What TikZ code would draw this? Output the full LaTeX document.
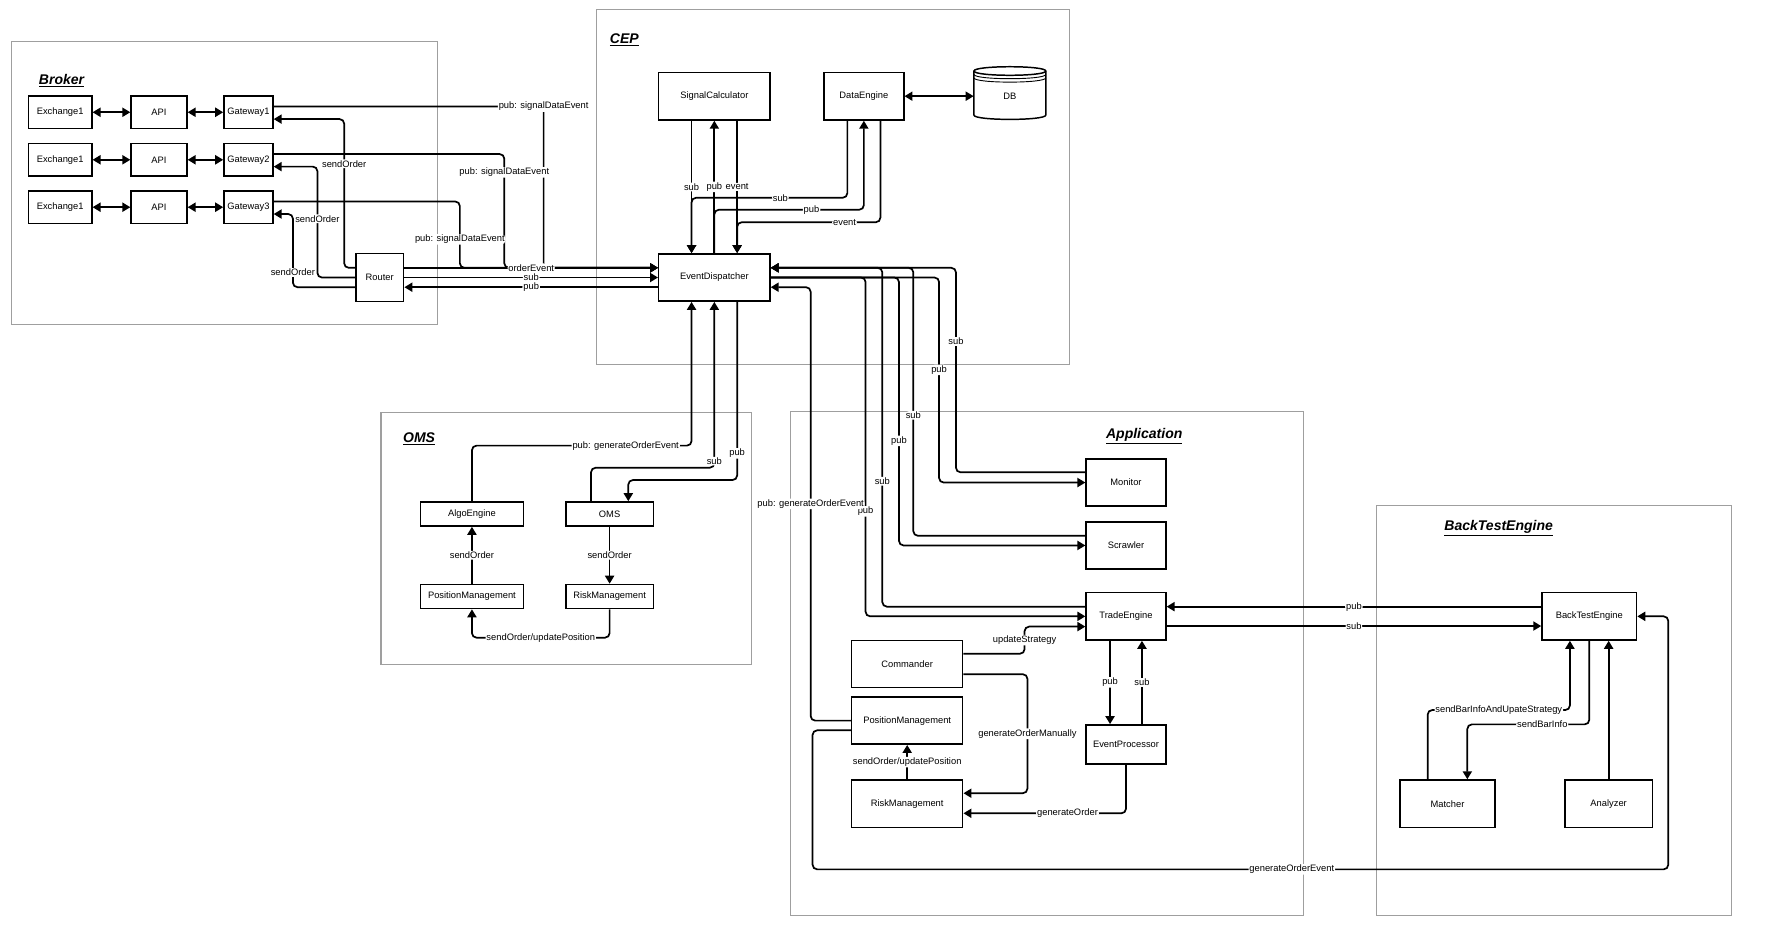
\documentclass[tikz,border=0pt]{standalone}
\usepackage{fontspec}
\setmainfont{Liberation Sans}
\usepackage{tikz}
\usetikzlibrary{arrows.meta}

\newcommand{\boxfont}{\fontsize{8.2}{9.5}\selectfont}

\begin{document}
\begin{tikzpicture}[
    x=1pt, y=-1pt,
    box/.style={draw, line width=1.3pt, fill=white, font=\boxfont, inner sep=1pt},
    grp/.style={draw=gray!75, line width=0.9pt},
    ttl/.style={font=\fontsize{12.3}{14}\selectfont\bfseries\itshape, inner sep=0pt},
    arr/.style={-{Triangle[length=7pt,width=8pt]}, line width=1.5pt, rounded corners=4pt},
    biarr/.style={{Triangle[length=7pt,width=8pt]}-{Triangle[length=7pt,width=8pt]}, line width=1.5pt},
    lbl/.style={fill=white, inner sep=0.8pt, font=\boxfont}
]
    \useasboundingbox (0,0) rectangle (1568,820);

    % groups
    \draw[grp] (10,36.6) rectangle (383.8,285);
    \draw[grp] (523,8.2) rectangle (938,319.4);
    \draw[grp] (334.3,361.8) rectangle (659.5,583);
    \draw[grp] (694,361.2) rectangle (1143.6,803.7);
    \draw[grp] (1208,443.7) rectangle (1519,803.7);

    \node[ttl, anchor=west] (tBroker) at (34,70.8) {\underline{Broker}};
    \node[ttl, anchor=west] (tCep) at (535,35) {\underline{CEP}};
    \node[ttl, anchor=west] (tOms) at (353.5,384.6) {\underline{OMS}};
    \node[ttl] (tApp) at (1004,383) {\underline{Application}};
    \node[ttl] (tBte) at (1315,463.6) {\underline{BackTestEngine}};

    % broker
    \foreach \i/\y in {1/98.5, 2/140.2, 3/181.8} {
        \node[box, minimum width=55.6, minimum height=28.5] (ex\i) at (52.8,\y) {Exchange1};
        \node[box, minimum width=49, minimum height=28.5] (api\i) at (139.5,\y) {API};
        \node[box, minimum width=43, minimum height=28.5] (gw\i) at (218,\y) {Gateway\i};
        \draw[biarr] (ex\i) -- (api\i);
        \draw[biarr] (api\i) -- (gw\i);
    }
    \node[box, minimum width=42, minimum height=42] (router) at (333.2,243.5) {Router};

    % cep
    \node[box, minimum width=97.6, minimum height=41.5] (ed) at (626.8,243.5) {EventDispatcher};
    \node[box, minimum width=97.6, minimum height=41.8] (sc) at (626.8,84.4) {SignalCalculator};
    \node[box, minimum width=70, minimum height=41.8] (de) at (758,84.4) {DataEngine};
    \draw[line width=1.3pt, fill=white] (854.6,62.3) -- (854.6,101)
        .. controls (854.6,106) and (917.6,106) .. (917.6,101) -- (917.6,62.3)
        .. controls (917.6,57.3) and (854.6,57.3) .. (854.6,62.3) -- cycle;
    \draw[line width=1.3pt] (854.6,62.3) .. controls (854.6,67.3) and (917.6,67.3) .. (917.6,62.3);
    \draw[line width=0.8pt] (854.6,65.3) .. controls (854.6,70.3) and (917.6,70.3) .. (917.6,65.3);
    \draw[line width=0.8pt] (854.6,68.3) .. controls (854.6,73.3) and (917.6,73.3) .. (917.6,68.3);
    \node[minimum width=63, minimum height=46, font=\boxfont] (db) at (886,84.4) {DB};

    % oms
    \node[box, minimum width=90.2, minimum height=21.2] (algo) at (414.1,451) {AlgoEngine};
    \node[box, minimum width=76.6, minimum height=21.2] (omsb) at (534.9,451) {OMS};
    \node[box, minimum width=90.2, minimum height=21.2] (pmo) at (414.1,523.4) {PositionManagement};
    \node[box, minimum width=76.6, minimum height=21.2] (rmo) at (534.9,523.4) {RiskManagement};

    % application
    \node[box, minimum width=70, minimum height=41.3] (mon) at (988,423.4) {Monitor};
    \node[box, minimum width=70, minimum height=41.3] (scr) at (988,478.6) {Scrawler};
    \node[box, minimum width=70, minimum height=41.6] (te) at (988,540.8) {TradeEngine};
    \node[box, minimum width=70, minimum height=34.4] (ep) at (988,653.2) {EventProcessor};
    \node[box, minimum width=97.5, minimum height=41.6] (cmd) at (796,582.6) {Commander};
    \node[box, minimum width=97.5, minimum height=41.4] (pm2) at (796,632.3) {PositionManagement};
    \node[box, minimum width=97.5, minimum height=41.8] (rm2) at (796,705.3) {RiskManagement};

    % backtest
    \node[box, minimum width=83, minimum height=41.6] (bte) at (1394.5,540.8) {BackTestEngine};
    \node[box, minimum width=83.4, minimum height=41.6] (mat) at (1270.1,705.2) {Matcher};
    \node[box, minimum width=77, minimum height=41.6] (ana) at (1411.5,705.2) {Analyzer};

    % broker <-> cep
    \draw[arr] ([yshift=5pt]gw1.east) -- (477,93.5) node[lbl] {pub: signalDataEvent} -- (477,235) -- ([yshift=8.5pt]ed.west);
    \draw[arr] ([yshift=5pt]gw2.east) -- (442.5,135.2) -- (442.5,235) node[lbl, pos=0.16] {pub: signalDataEvent} -- ([yshift=8.5pt]ed.west);
    \draw[arr] ([yshift=5pt]gw3.east) -- (403.5,176.8) -- (403.5,235) node[lbl, pos=0.57] {pub: signalDataEvent} -- ([yshift=8.5pt]ed.west);
    \draw[arr] ([yshift=8.5pt]router.west) -- (302,235) -- (302,104.5) node[lbl, pos=0.7] {sendOrder} -- ([yshift=-6pt]gw1.east);
    \draw[arr] (router.west) -- (278.5,243.5) -- (278.5,146.2) node[lbl, pos=0.53] {sendOrder} -- ([yshift=-6pt]gw2.east);
    \draw[arr] ([yshift=-8.5pt]router.west) -- (257,252) -- (257,187.8) node[lbl, pos=0.2] {sendOrder} -- ([yshift=-6pt]gw3.east);
    \draw[arr] ([yshift=8.5pt]router.east) -- node[lbl] {orderEvent} ([yshift=8.5pt]ed.west);
    \draw[arr] (router.east) -- node[lbl] {sub} (ed.west);
    \draw[arr] ([yshift=-8.5pt]ed.west) -- node[lbl] {pub} ([yshift=-8.5pt]router.east);

    % cep inside
    \draw[biarr] (de) -- (db);
    \draw[arr] ([xshift=-20pt]sc.south) -- node[lbl] {sub} ([xshift=-20pt]ed.north);
    \draw[arr] (ed.north) -- node[lbl] {pub} (sc.south);
    \draw[arr] ([xshift=20pt]sc.south) -- node[lbl] {event} ([xshift=20pt]ed.north);
    \draw[arr] ([xshift=-14.5pt]de.south) -- (743.5,173.5) -- node[lbl, pos=0.43] {sub} (606.8,173.5) -- ([xshift=-20pt]ed.north);
    \draw[arr] (ed.north) -- (626.8,184) -- node[lbl, pos=0.65] {pub} (758,184) -- (de.south);
    \draw[arr] ([xshift=14.5pt]de.south) -- (772.5,195) -- node[lbl, pos=0.25] {event} (646.8,195) -- ([xshift=20pt]ed.north);

    % application <-> cep
    \draw[arr] ([yshift=9pt]mon.west) -- (838.8,414.4) -- node[lbl, pos=0.64] {sub} (838.8,235) -- ([yshift=8.5pt]ed.east);
    \draw[arr] (ed.east) -- (824,243.5) -- node[lbl, pos=0.45] {pub} (824,423.4) -- (mon.west);
    \draw[arr] ([yshift=8.5pt]scr.west) -- (801.4,470.1) -- node[lbl, pos=0.45] {sub} (801.4,235) -- ([yshift=8.5pt]ed.east);
    \draw[arr] (ed.east) -- (788.8,243.5) -- node[lbl, pos=0.61] {pub} (788.8,478.6) -- (scr.west);
    \draw[arr] ([yshift=8.5pt]te.west) -- (774.2,532.3) -- node[lbl, pos=0.37] {sub} (774.2,235) -- ([yshift=8.5pt]ed.east);
    \draw[arr] (ed.east) -- (759.5,243.5) -- node[lbl, pos=0.69] {pub} (759.5,540.8) -- (te.west);
    \draw[arr] (pm2.west) -- (711.3,632.3) -- node[lbl, pos=0.5] {pub: generateOrderEvent} (711.3,252) -- ([yshift=-8.5pt]ed.east);

    % application inside
    \draw[arr] ([yshift=8.5pt]bte.west) -- node[lbl] {pub} ([yshift=8.5pt]te.east);
    \draw[arr] ([yshift=-8.5pt]te.east) -- node[lbl] {sub} ([yshift=-8.5pt]bte.west);
    \draw[arr] ([xshift=-14pt]te.south) -- node[lbl] {pub} ([xshift=-14pt]ep.north);
    \draw[arr] ([xshift=14pt]ep.north) -- node[lbl] {sub} ([xshift=14pt]te.south);
    \draw[arr] ([yshift=9pt]cmd.east) -- (899,573.6) -- node[lbl] {updateStrategy} (899,549.8) -- ([yshift=-9pt]te.west);
    \draw[arr] ([yshift=-9pt]cmd.east) -- (901.5,591.6) -- node[lbl] {generateOrderManually} (901.5,696) -- ([yshift=9.3pt]rm2.east);
    \draw[arr] (ep.south) -- (988,713.6) -- node[lbl, pos=0.36] {generateOrder} ([yshift=-8.3pt]rm2.east);
    \draw[arr] (rm2.north) -- node[lbl] {sendOrder/updatePosition} (pm2.south);
    \draw[arr] ([yshift=-8.5pt]pm2.west) -- (713,640.8) -- (713,762.8) -- node[lbl, pos=0.56] {generateOrderEvent} (1463.8,762.8) -- (1463.8,540.8) -- (bte.east);

    % backtest inside
    \draw[arr] ([xshift=-17.4pt]mat.north) -- (1252.7,623) -- node[lbl] {sendBarInfoAndUpateStrategy} (1377.5,623) -- ([xshift=-17pt]bte.south);
    \draw[arr] (bte.south) -- (1394.5,635.6) -- node[lbl, pos=0.385] {sendBarInfo} (1287.5,635.6) -- ([xshift=17.4pt]mat.north);
    \draw[arr] (ana.north) -- (ana.north |- bte.south);

    % oms inside
    \draw[arr] (pmo.north) -- node[lbl] {sendOrder} (algo.south);
    \draw[arr] (omsb.south) -- node[lbl] {sendOrder} (rmo.north);
    \draw[arr] (rmo.south) -- (534.9,559.5) -- node[lbl] {sendOrder/updatePosition} (414.1,559.5) -- (pmo.south);
    \draw[arr] (algo.north) -- (414.1,391) -- node[lbl, pos=0.7] {pub: generateOrderEvent} (606.8,391) -- ([xshift=-20pt]ed.south);
    \draw[arr] ([xshift=-16.3pt]omsb.north) -- (518.6,410.4) -- (626.8,410.4) -- node[lbl, pos=0.04] {sub} (ed.south);
    \draw[arr] ([xshift=20pt]ed.south) -- node[lbl, pos=0.85] {pub} (646.8,421.2) -- (551.3,421.2) -- ([xshift=16.4pt]omsb.north);
\end{tikzpicture}
\end{document}
